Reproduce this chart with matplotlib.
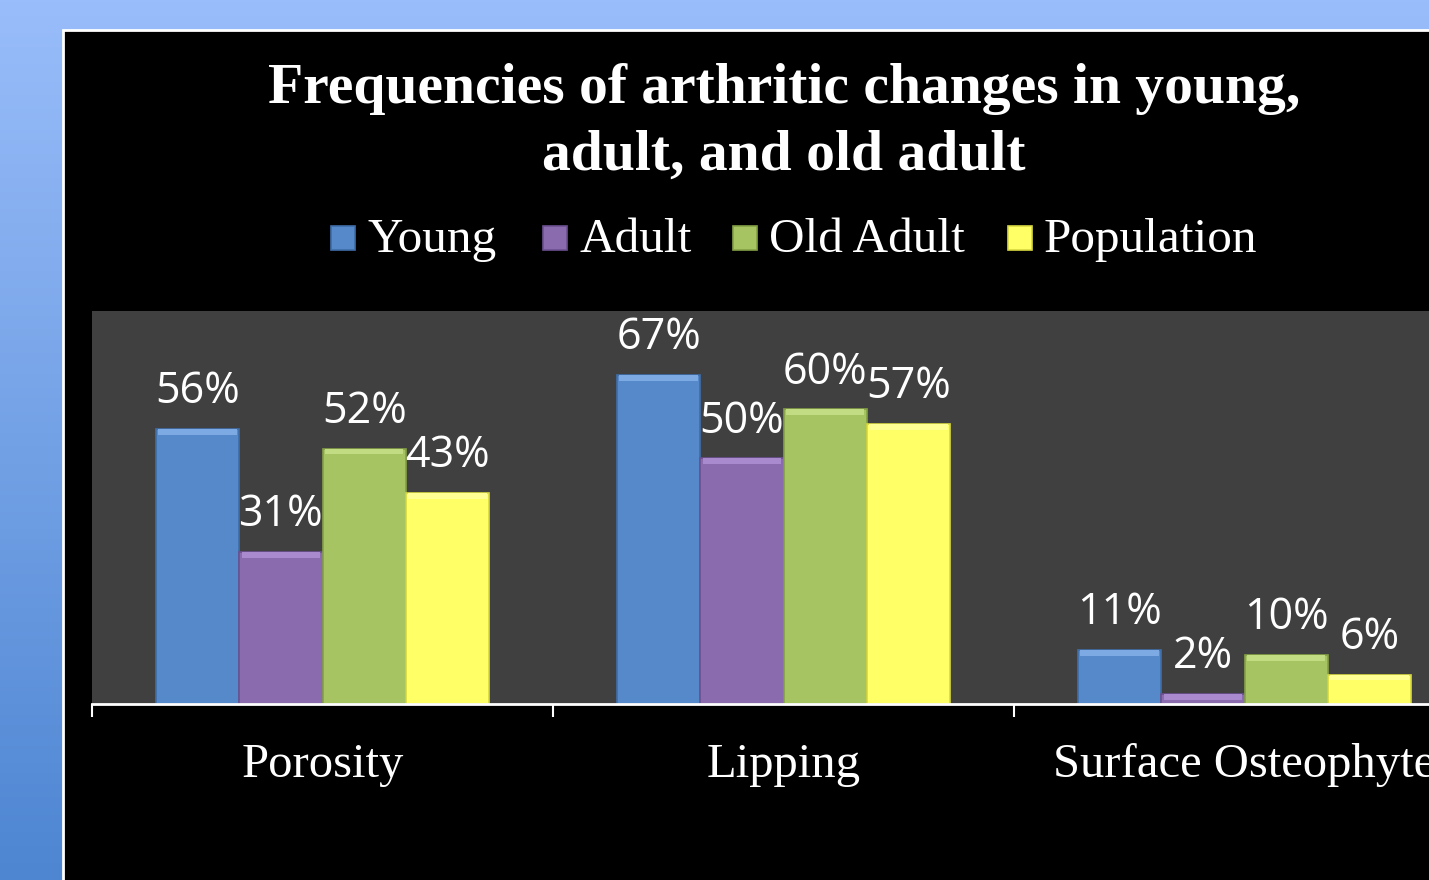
import numpy as np
import matplotlib
matplotlib.use("Agg")
import matplotlib.pyplot as plt
from matplotlib.patches import Rectangle

categories = ["Porosity", "Lipping", "Surface Osteophyte"]
series_names = ["Young", "Adult", "Old Adult", "Population"]
young = [56, 67, 11]
adult = [31, 50, 2]
old_adult = [52, 60, 10]
population = [43, 57, 6]
series_values = [young, adult, old_adult, population]

colors = ["#5589CA", "#8A6BAD", "#A6C462", "#FFFF66"]
top_colors = ["#7DAAE3", "#AA8ACF", "#C2DC84", "#FFFF94"]
edge_colors = ["#3F6EA8", "#6B5090", "#84A045", "#D8D840"]

W, H = 1429, 880
fig = plt.figure(figsize=(W / 100, H / 100), dpi=100)

# background gradient
bg = fig.add_axes([0, 0, 1, 1], zorder=-10)
grad = np.linspace(0, 1, 256).reshape(-1, 1)
top_c = np.array([0x99, 0xBD, 0xFA]) / 255
bot_c = np.array([0x4E, 0x86, 0xD2]) / 255
img = top_c[None, None, :] * (1 - grad[:, :, None]) + bot_c[None, None, :] * grad[:, :, None]
bg.imshow(img, aspect="auto", extent=[0, 1, 0, 1], origin="upper")
bg.set_xlim(0, 1)
bg.set_ylim(0, 1)
bg.axis("off")
# black chart frame
x0, y0 = 63 / W, 1 - 30 / H
bg.add_patch(Rectangle((x0, -0.1), 1.2, y0 + 0.1, facecolor="black",
                       edgecolor="white", linewidth=2, transform=bg.transAxes))

serif = ["Liberation Serif", "DejaVu Serif"]
sans = ["Open Sans", "DejaVu Sans"]

# plot axes
left = 92 / W
right_px = 92 + 3 * 461
ax = fig.add_axes([left, 1 - 704 / H, (right_px - 92) / W, (704 - 311) / H])
ax.set_facecolor("#404040")
ax.set_xlim(-0.5, 2.5)
ax.set_ylim(0, 80)

x = np.arange(len(categories))
bw = 0.1807
for i, (vals, c, tc, ec) in enumerate(zip(series_values, colors, top_colors, edge_colors)):
    pos = x + (i - 1.5) * bw
    vals = np.array(vals, dtype=float)
    ax.bar(pos, vals, width=bw, color=c, edgecolor=ec, linewidth=1.2, zorder=2)
    bev = np.minimum(vals, 1.2)
    ax.bar(pos, bev, bottom=vals - bev, width=bw * 0.94, color=tc, linewidth=0, zorder=3)
    for px, v in zip(pos, vals):
        ax.text(px, v + 3.0, f"{int(v)}%", ha="center", va="bottom",
                fontsize=31, color="white", family=sans, zorder=4)

for s in ["top", "right", "left"]:
    ax.spines[s].set_visible(False)
ax.spines["bottom"].set_color("white")
ax.spines["bottom"].set_linewidth(2)
ax.set_yticks([])
ax.set_xticks(x)
ax.set_xticklabels(categories, fontsize=35, color="white", family=serif)
ax.tick_params(axis="x", which="major", length=0, pad=28)
ax.set_xticks(np.arange(-0.5, 3, 1), minor=True)
ax.tick_params(axis="x", which="minor", length=9, width=1.5, color="white", direction="out")

# title
title_lines = ["Frequencies of arthritic changes in young,", "adult, and old adult"]
for line, ypx in zip(title_lines, [89, 156]):
    fig.text(784 / W, 1 - ypx / H, line, ha="center", va="center", fontsize=41.5,
             fontweight="bold", color="white", family=serif)

# legend
marker_x = [331, 543, 733, 1008]
for name, c, ec, mx in zip(series_names, colors, edge_colors, marker_x):
    fig.patches.append(Rectangle((mx / W, 1 - 250 / H), 24 / W, 24 / H, facecolor=c,
                                 edgecolor=ec, linewidth=1.2, transform=fig.transFigure))
    fig.text((mx + 36) / W, 1 - 240 / H, name, ha="left", va="center", fontsize=35.5,
             color="white", family=serif)

fig.savefig("out.png", dpi=100)
